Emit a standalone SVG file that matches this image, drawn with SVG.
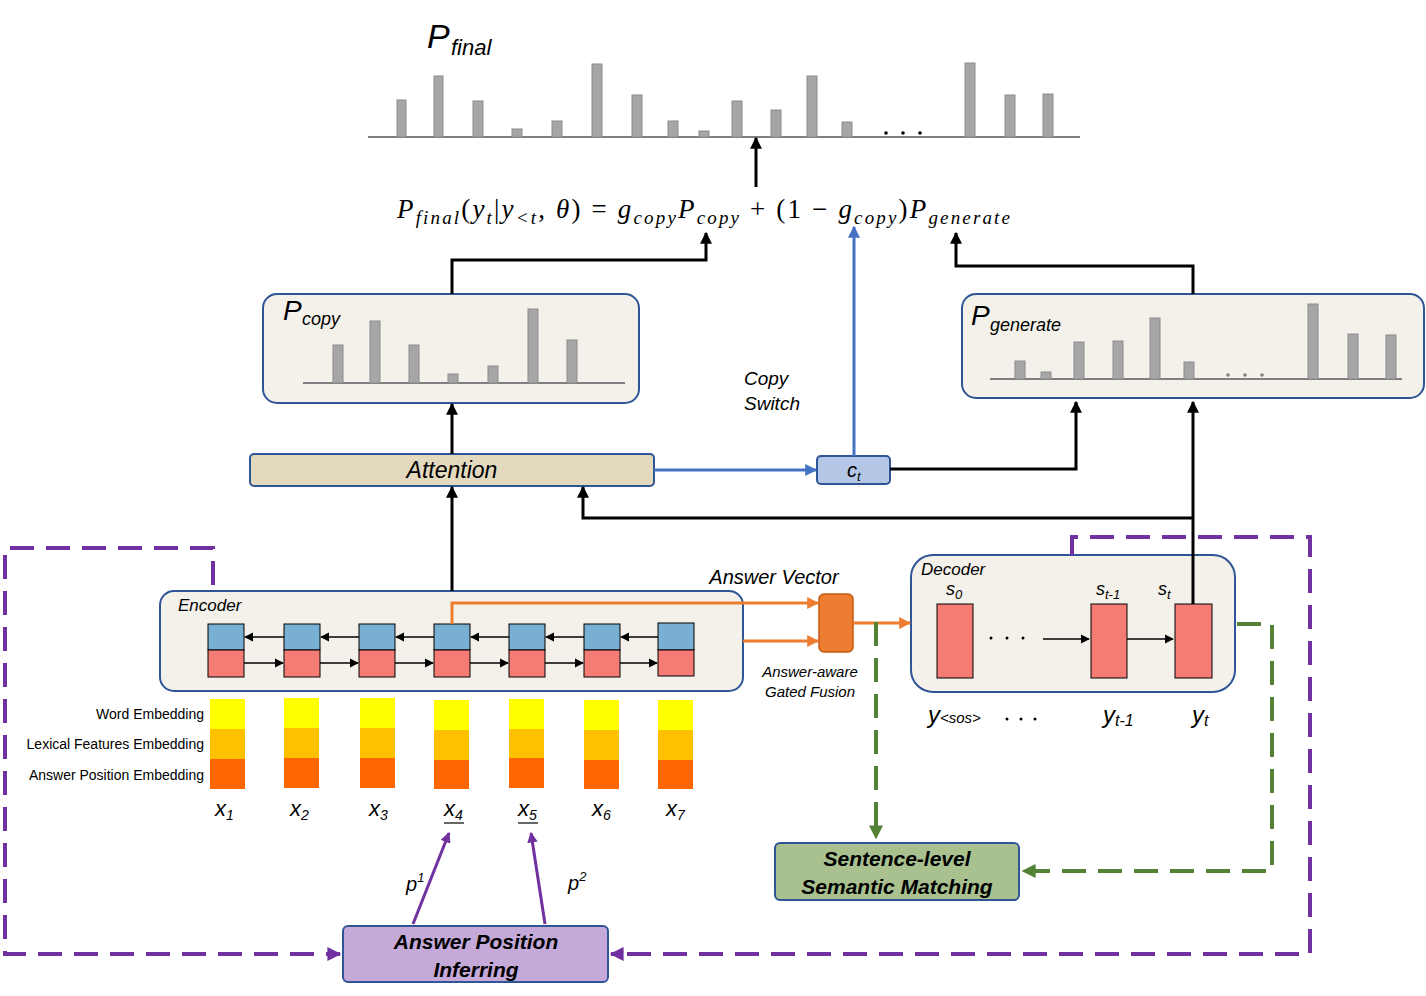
<svg xmlns="http://www.w3.org/2000/svg" width="1426" height="996" viewBox="0 0 1426 996">
<defs>
<style>
text{font-family:"Liberation Sans",Arial,sans-serif;fill:#000}
.it{font-style:italic}
.math{font-family:"Liberation Serif","DejaVu Serif",serif;font-style:italic;font-size:27px}
.bar{fill:#a6a6a6;stroke:#8c8c8c;stroke-width:1}
.base{stroke:#7f7f7f;stroke-width:2}
.box{fill:#f3f1ea;stroke:#2f5597;stroke-width:2}
.blk{stroke:#000;stroke-width:3;fill:none}
.blue{stroke:#4472c4;stroke-width:3;fill:none}
.org{stroke:#ed7d31;stroke-width:3;fill:none}
.pur{stroke:#7030a0;stroke-width:4;fill:none;stroke-dasharray:24,12}
.grn{stroke:#548235;stroke-width:4;fill:none;stroke-dasharray:24,12}
.thin{stroke:#000;stroke-width:1.3;fill:none}
.cb{fill:#7aafd4;stroke:#000;stroke-width:1}
.cr{fill:#f47c74;stroke:#000;stroke-width:1}
</style>
<marker id="ak" viewBox="0 0 10 10" refX="9" refY="5" markerWidth="4" markerHeight="4" orient="auto"><path d="M0,0L10,5L0,10z" fill="#000"/></marker>
<marker id="ak2" viewBox="0 0 10 10" refX="9" refY="5" markerWidth="7" markerHeight="7" orient="auto"><path d="M0,0L10,5L0,10z" fill="#000"/></marker>
<marker id="ab" viewBox="0 0 10 10" refX="9" refY="5" markerWidth="4" markerHeight="4" orient="auto"><path d="M0,0L10,5L0,10z" fill="#4472c4"/></marker>
<marker id="ao" viewBox="0 0 10 10" refX="9" refY="5" markerWidth="4" markerHeight="4" orient="auto"><path d="M0,0L10,5L0,10z" fill="#ed7d31"/></marker>
<marker id="ap" viewBox="0 0 10 10" refX="9" refY="5" markerWidth="3.5" markerHeight="3.5" orient="auto"><path d="M0,0L10,5L0,10z" fill="#7030a0"/></marker>
<marker id="ag" viewBox="0 0 10 10" refX="9" refY="5" markerWidth="3.5" markerHeight="3.5" orient="auto"><path d="M0,0L10,5L0,10z" fill="#548235"/></marker>
</defs>
<rect width="1426" height="996" fill="#fff"/>

<g id="pfinal">
<text x="427" y="48" class="it" font-size="34">P</text><text x="451" y="55" class="it" font-size="22">final</text>
<line class="base" x1="368" y1="137" x2="1080" y2="137"/>
<rect class="bar" x="397" y="100" width="9" height="37"/>
<rect class="bar" x="434" y="76" width="9" height="61"/>
<rect class="bar" x="473" y="101" width="10" height="36"/>
<rect class="bar" x="512" y="129" width="10" height="8"/>
<rect class="bar" x="552" y="121" width="10" height="16"/>
<rect class="bar" x="592" y="64" width="10" height="73"/>
<rect class="bar" x="632" y="95" width="10" height="42"/>
<rect class="bar" x="668" y="121" width="10" height="16"/>
<rect class="bar" x="699" y="131" width="10" height="6"/>
<rect class="bar" x="732" y="101" width="10" height="36"/>
<rect class="bar" x="771" y="110" width="10" height="27"/>
<rect class="bar" x="807" y="76" width="10" height="61"/>
<rect class="bar" x="842" y="122" width="10" height="15"/>
<rect class="bar" x="965" y="63" width="10" height="74"/>
<rect class="bar" x="1005" y="95" width="10" height="42"/>
<rect class="bar" x="1043" y="94" width="10" height="43"/>
<circle cx="886" cy="133" r="1.8"/><circle cx="903" cy="133" r="1.8"/><circle cx="920" cy="133" r="1.8"/>
</g>

<g id="formula">
<text class="math" x="397" y="218" textLength="613" lengthAdjust="spacing">P<tspan font-size="19" dy="6">final</tspan><tspan dy="-6" font-style="normal">(</tspan>y<tspan font-size="19" dy="6">t</tspan><tspan dy="-6" font-style="normal">|</tspan>y<tspan font-size="19" dy="6">&lt;t</tspan><tspan dy="-6" font-style="normal">, </tspan>θ<tspan font-style="normal">) = </tspan>g<tspan font-size="19" dy="6">copy</tspan><tspan dy="-6">P</tspan><tspan font-size="19" dy="6">copy</tspan><tspan dy="-6" font-style="normal"> + (1 − </tspan>g<tspan font-size="19" dy="6">copy</tspan><tspan dy="-6" font-style="normal">)</tspan>P<tspan font-size="19" dy="6">generate</tspan></text>
</g>

<g id="pcopy">
<rect class="box" x="263" y="294" width="376" height="109" rx="14"/>
<text x="283" y="320" class="it" font-size="28">P</text><text x="302" y="325" class="it" font-size="18">copy</text>
<line class="base" x1="303" y1="383" x2="625" y2="383"/>
<rect class="bar" x="333" y="345" width="10" height="38"/>
<rect class="bar" x="370" y="321" width="10" height="62"/>
<rect class="bar" x="409" y="345" width="10" height="38"/>
<rect class="bar" x="448" y="374" width="10" height="9"/>
<rect class="bar" x="488" y="366" width="10" height="17"/>
<rect class="bar" x="528" y="309" width="10" height="74"/>
<rect class="bar" x="567" y="340" width="10" height="43"/>
</g>

<g id="pgenerate">
<rect class="box" x="962" y="294" width="462" height="104" rx="14"/>
<text x="971" y="325" class="it" font-size="28">P</text><text x="990" y="331" class="it" font-size="18">generate</text>
<line class="base" x1="990" y1="379" x2="1402" y2="379"/>
<rect class="bar" x="1015" y="361" width="10" height="18"/>
<rect class="bar" x="1041" y="372" width="10" height="7"/>
<rect class="bar" x="1074" y="342" width="10" height="37"/>
<rect class="bar" x="1113" y="341" width="10" height="38"/>
<rect class="bar" x="1150" y="318" width="10" height="61"/>
<rect class="bar" x="1184" y="362" width="10" height="17"/>
<rect class="bar" x="1308" y="304" width="10" height="75"/>
<rect class="bar" x="1348" y="334" width="10" height="45"/>
<rect class="bar" x="1386" y="335" width="10" height="44"/>
<circle cx="1228" cy="375" r="1.8" fill="#7f7f7f"/><circle cx="1245" cy="375" r="1.8" fill="#7f7f7f"/><circle cx="1262" cy="375" r="1.8" fill="#7f7f7f"/>
</g>

<g id="copyswitch"><text x="744" y="385" class="it" font-size="19">Copy</text><text x="744" y="410" class="it" font-size="19">Switch</text></g>

<g id="attention">
<rect x="250" y="454" width="404" height="32" rx="4" fill="#e3d9bf" stroke="#2f5597" stroke-width="2"/>
<text x="452" y="478" class="it" font-size="23" text-anchor="middle">Attention</text>
</g>

<g id="ct">
<rect x="817" y="456" width="73" height="28" rx="4" fill="#b4c7e7" stroke="#2f5597" stroke-width="2"/>
<text x="847" y="477" class="it" font-size="20" fill="#fff">c<tspan font-size="13" dy="4">t</tspan></text>
</g>

<g id="encoder">
<rect class="box" x="160" y="591" width="583" height="100" rx="14"/>
<text x="178" y="611" class="it" font-size="17">Encoder</text>
<rect class="cb" x="208" y="624" width="36" height="26"/><rect class="cr" x="208" y="650" width="36" height="27"/>
<rect class="cb" x="284" y="624" width="36" height="26"/><rect class="cr" x="284" y="650" width="36" height="27"/>
<rect class="cb" x="359" y="624" width="36" height="26"/><rect class="cr" x="359" y="650" width="36" height="27"/>
<rect class="cb" x="434" y="624" width="36" height="26"/><rect class="cr" x="434" y="650" width="36" height="27"/>
<rect class="cb" x="509" y="624" width="36" height="26"/><rect class="cr" x="509" y="650" width="36" height="27"/>
<rect class="cb" x="584" y="624" width="36" height="26"/><rect class="cr" x="584" y="650" width="36" height="27"/>
<rect class="cb" x="658" y="623" width="36" height="27"/><rect class="cr" x="658" y="650" width="36" height="26"/>
<g class="thin">
<path d="M284 637H245" marker-end="url(#ak2)"/><path d="M359 637H321" marker-end="url(#ak2)"/><path d="M434 637H396" marker-end="url(#ak2)"/><path d="M509 637H471" marker-end="url(#ak2)"/><path d="M584 637H546" marker-end="url(#ak2)"/><path d="M658 637H621" marker-end="url(#ak2)"/>
<path d="M244 663H283" marker-end="url(#ak2)"/><path d="M320 663H358" marker-end="url(#ak2)"/><path d="M395 663H433" marker-end="url(#ak2)"/><path d="M470 663H508" marker-end="url(#ak2)"/><path d="M545 663H583" marker-end="url(#ak2)"/><path d="M620 663H657" marker-end="url(#ak2)"/>
</g>
</g>

<g id="embeddings">
<text x="204" y="719" font-size="14" text-anchor="end">Word Embedding</text>
<text x="204" y="749" font-size="14" text-anchor="end">Lexical Features Embedding</text>
<text x="204" y="780" font-size="14" text-anchor="end">Answer Position Embedding</text>
<g>
<rect x="210" y="699" width="35" height="30" fill="#ffff00"/><rect x="210" y="729" width="35" height="30" fill="#ffc000"/><rect x="210" y="759" width="35" height="30" fill="#ff6600"/>
<rect x="284" y="698" width="35" height="30" fill="#ffff00"/><rect x="284" y="728" width="35" height="30" fill="#ffc000"/><rect x="284" y="758" width="35" height="30" fill="#ff6600"/>
<rect x="360" y="698" width="35" height="30" fill="#ffff00"/><rect x="360" y="728" width="35" height="30" fill="#ffc000"/><rect x="360" y="758" width="35" height="30" fill="#ff6600"/>
<rect x="434" y="700" width="35" height="30" fill="#ffff00"/><rect x="434" y="730" width="35" height="30" fill="#ffc000"/><rect x="434" y="760" width="35" height="29" fill="#ff6600"/>
<rect x="509" y="699" width="35" height="30" fill="#ffff00"/><rect x="509" y="729" width="35" height="29" fill="#ffc000"/><rect x="509" y="758" width="35" height="30" fill="#ff6600"/>
<rect x="584" y="700" width="35" height="30" fill="#ffff00"/><rect x="584" y="730" width="35" height="30" fill="#ffc000"/><rect x="584" y="760" width="35" height="29" fill="#ff6600"/>
<rect x="658" y="700" width="35" height="30" fill="#ffff00"/><rect x="658" y="730" width="35" height="30" fill="#ffc000"/><rect x="658" y="760" width="35" height="29" fill="#ff6600"/>
</g>
<g class="it" font-size="22">
<text x="215" y="816">x<tspan font-size="14" dy="4">1</tspan></text>
<text x="290" y="816">x<tspan font-size="14" dy="4">2</tspan></text>
<text x="369" y="816">x<tspan font-size="14" dy="4">3</tspan></text>
<text x="444" y="816">x<tspan font-size="14" dy="4">4</tspan></text>
<text x="518" y="816">x<tspan font-size="14" dy="4">5</tspan></text>
<text x="592" y="816">x<tspan font-size="14" dy="4">6</tspan></text>
<text x="666" y="816">x<tspan font-size="14" dy="4">7</tspan></text>
</g>
<line x1="444" y1="823" x2="464" y2="823" stroke="#000" stroke-width="1.2"/>
<line x1="518" y1="823" x2="538" y2="823" stroke="#000" stroke-width="1.2"/>
</g>

<g id="fusion">
<rect x="819" y="594" width="34" height="58" rx="5" fill="#ed7d31" stroke="#c55a11" stroke-width="1.5"/>
<text x="774" y="584" class="it" font-size="20" text-anchor="middle">Answer Vector</text>
<text x="810" y="677" class="it" font-size="15" text-anchor="middle">Answer-aware</text>
<text x="810" y="697" class="it" font-size="15" text-anchor="middle">Gated Fusion</text>
</g>

<g id="decoder">
<rect class="box" x="911" y="555" width="324" height="137" rx="22"/>
<text x="921" y="575" class="it" font-size="17">Decoder</text>
<rect class="cr" x="937" y="604" width="36" height="74"/>
<rect class="cr" x="1091" y="604" width="36" height="74"/>
<rect class="cr" x="1175" y="604" width="37" height="74"/>
<text x="946" y="595" class="it" font-size="18">s<tspan font-size="13" dy="4">0</tspan></text>
<text x="1096" y="595" class="it" font-size="18">s<tspan font-size="13" dy="4">t-1</tspan></text>
<text x="1158" y="595" class="it" font-size="18">s<tspan font-size="13" dy="4">t</tspan></text>
<circle cx="991" cy="638" r="1.5"/><circle cx="1007" cy="638" r="1.5"/><circle cx="1023" cy="638" r="1.5"/>
<path class="thin" d="M1043 639H1089" marker-end="url(#ak2)"/>
<path class="thin" d="M1127 639H1173" marker-end="url(#ak2)"/>
<text x="928" y="723" class="it" font-size="24">y<tspan font-size="15" dy="0">&lt;sos&gt;</tspan></text>
<circle cx="1007" cy="719" r="1.5"/><circle cx="1021" cy="719" r="1.5"/><circle cx="1035" cy="719" r="1.5"/>
<text x="1103" y="723" class="it" font-size="24">y<tspan font-size="16" dy="3">t-1</tspan></text>
<text x="1192" y="723" class="it" font-size="24">y<tspan font-size="16" dy="3">t</tspan></text>
</g>

<g id="semantic">
<rect x="775" y="843" width="244" height="57" rx="5" fill="#a9c18f" stroke="#2f5597" stroke-width="2"/>
<text x="897" y="866" class="it" font-size="21" font-weight="bold" text-anchor="middle">Sentence-level</text>
<text x="897" y="894" class="it" font-size="21" font-weight="bold" text-anchor="middle">Semantic Matching</text>
</g>

<g id="answerpos">
<rect x="343" y="926" width="265" height="56" rx="5" fill="#c4a9d9" stroke="#2f5597" stroke-width="2"/>
<text x="476" y="949" class="it" font-size="21" font-weight="bold" text-anchor="middle">Answer Position</text>
<text x="476" y="977" class="it" font-size="21" font-weight="bold" text-anchor="middle">Inferring</text>
</g>

<g id="connectors">
<path class="blk" d="M756 187V138" marker-end="url(#ak)"/>
<path class="blk" d="M452 294V260H706V233" marker-end="url(#ak)"/>
<path class="blk" d="M1193 294V266H956V233" marker-end="url(#ak)"/>
<path class="blue" d="M854 456V227" marker-end="url(#ab)"/>
<path class="blue" d="M654 470H816" marker-end="url(#ab)"/>
<path class="blk" d="M452 454V404" marker-end="url(#ak)"/>
<path class="blk" d="M452 591V487" marker-end="url(#ak)"/>
<path class="blk" d="M890 469H1076V402" marker-end="url(#ak)"/>
<path class="blk" d="M1193 604V402" marker-end="url(#ak)"/>
<path class="blk" d="M1193 518H583V487" marker-end="url(#ak)"/>
<path class="org" d="M452 624V603H818" marker-end="url(#ao)"/>
<path class="org" d="M743 641H818" marker-end="url(#ao)"/>
<path class="org" d="M853 623H910" marker-end="url(#ao)"/>
<path class="pur" d="M213 585V548H5V954H340" marker-end="url(#ap)"/>
<path class="pur" d="M1072 555V537H1310V954H611" marker-end="url(#ap)"/>
<path class="grn" d="M876 622V838" marker-end="url(#ag)"/>
<path class="grn" d="M1237 624H1272V871H1023" marker-end="url(#ag)"/>
<path d="M413 924L449 833" stroke="#7030a0" stroke-width="3" fill="none" marker-end="url(#ap)"/>
<path d="M545 924L531 833" stroke="#7030a0" stroke-width="3" fill="none" marker-end="url(#ap)"/>
<text x="406" y="891" class="it" font-size="20">p<tspan font-size="13" dy="-9">1</tspan></text>
<text x="568" y="890" class="it" font-size="20">p<tspan font-size="13" dy="-9">2</tspan></text>
</g>
</svg>
